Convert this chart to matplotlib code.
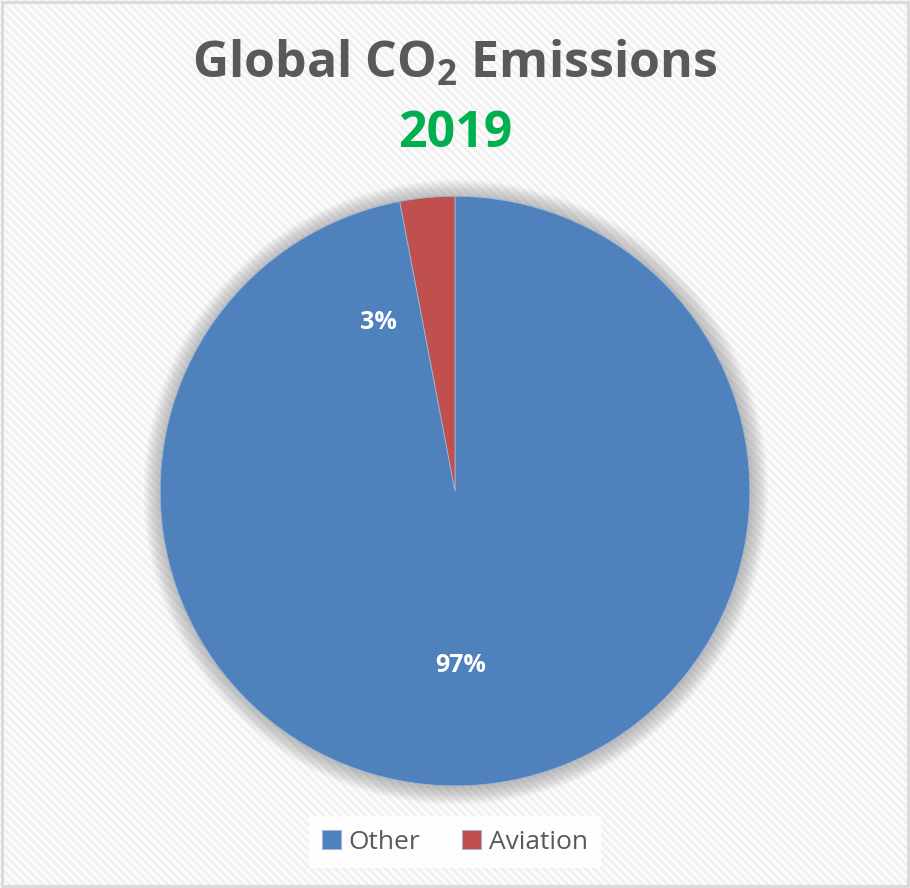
import numpy as np
import matplotlib
matplotlib.use("Agg")
import matplotlib.pyplot as plt
from matplotlib.patches import Rectangle, Circle

plt.rcParams['font.family'] = ['Open Sans', 'DejaVu Sans']
plt.rcParams['mathtext.fontset'] = 'custom'
plt.rcParams['mathtext.bf'] = 'Open Sans:bold'
plt.rcParams['mathtext.default'] = 'bf'
plt.rcParams['hatch.linewidth'] = 2.0

# data
labels = ['Other', 'Aviation']
shares = [97, 3]
colors = ['#4F81BD', '#C0504D']
title = 'Global CO$_2$ Emissions'
year = '2019'

fig = plt.figure(figsize=(9.1, 8.88), dpi=100)
fig.patch.set_facecolor('white')

# striped background with a thin grey frame
fig.patches.append(Rectangle((0, 0), 1, 1, transform=fig.transFigure,
                             facecolor='#fcfcfc', edgecolor='#f0f0f0', lw=0,
                             hatch='\\\\\\\\', zorder=-10))
fig.patches.append(Rectangle((0.002, 0.002), 0.996, 0.996, transform=fig.transFigure,
                             facecolor='none', edgecolor='#d9d9d9', lw=2, zorder=-5))

ax = fig.add_axes([0.5 - 0.324, 0.447 - 0.332, 0.648, 0.664])
ax.axis('off')

# soft shadow around the pie
for i in range(24):
    r = 1.0 + 0.0025 * (i + 1)
    ax.add_patch(Circle((0.003, -0.004), r, facecolor='#808080',
                        alpha=0.022, edgecolor='none', zorder=0, clip_on=False))

wedges, texts = ax.pie(shares, colors=colors, startangle=90, counterclock=False,
                       radius=1.0, wedgeprops=dict(edgecolor='#9db5d6', linewidth=0.6))
for w in wedges:
    w.set_zorder(2)
ax.set_xlim(-1, 1)
ax.set_ylim(-1, 1)
ax.set_aspect('equal')

# percentage labels
ax.text(0.02, -0.59, f'{shares[0]}%',
        ha='center', va='center', color='white', fontsize=18, fontweight='bold', zorder=3)
ax.text(-0.26, 0.573, f'{shares[1]}%',
        ha='center', va='center', color='white', fontsize=18, fontweight='bold', zorder=3)

fig.text(0.5, 1 - 78 / 888, title, ha='center', va='baseline',
         fontsize=36, fontweight='bold', color='#595959')
fig.text(0.5, 1 - 147 / 888, year, ha='center', va='baseline',
         fontsize=36, fontweight='bold', color='#00B050')

leg = fig.legend(wedges, labels, loc='center', bbox_to_anchor=(0.5, 1 - 842 / 888),
                 ncol=2, frameon=True, fontsize=19, handlelength=0.7, handleheight=0.7,
                 handletextpad=0.3, columnspacing=1.6, borderpad=0.5)
leg.get_frame().set_facecolor('white')
leg.get_frame().set_alpha(0.85)
leg.get_frame().set_edgecolor('none')
leg.get_frame().set_boxstyle('square', pad=0.0)
for t in leg.get_texts():
    t.set_color('#595959')

fig.savefig('out.png', dpi=100)
